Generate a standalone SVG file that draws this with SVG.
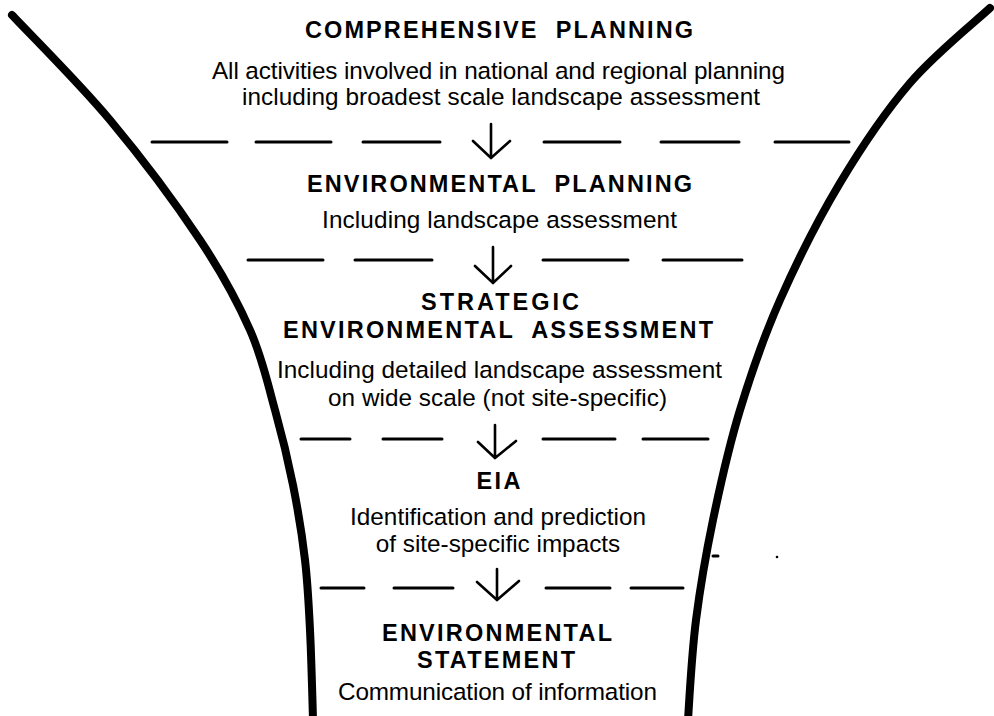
<svg xmlns="http://www.w3.org/2000/svg" width="994" height="716" viewBox="0 0 994 716">
<style>
text{font-family:"Liberation Sans",Arial,Helvetica,sans-serif;fill:#000;text-anchor:middle}
.h{font-weight:bold;font-size:23.5px}
.t{font-size:24.3px}
.funnel{fill:none;stroke:#000;stroke-width:8;stroke-linecap:round;stroke-linejoin:round}
.dash{stroke:#000;stroke-width:3;stroke-linecap:round}
.arr{fill:none;stroke:#000;stroke-width:2.6;stroke-linecap:round;stroke-linejoin:miter}
</style>
<rect width="994" height="716" fill="#fff"/>
<g id="funnel">
<path class="funnel" d="M12,15 C28.3,32.5 78.7,82.5 110,120 C141.3,157.5 176.7,205 200,240 C223.3,275 237.5,301.7 250,330 C262.5,358.3 267.8,384.2 275,410 C282.2,435.8 288,460 293,485 C298,510 302.2,535.8 305,560 C307.8,584.2 308.7,604 310,630 C311.3,656 312.5,701.7 313,720"/>
<path class="funnel" d="M990,8 C976.7,20.5 935,53.8 910,83 C885,112.2 861.7,146.8 840,183 C818.3,219.2 796.7,262.2 780,300 C763.3,337.8 751.2,373.3 740,410 C728.8,446.7 720.3,485 713,520 C705.7,555 700.2,587.3 696,620 C691.8,652.7 689.3,700 688,720"/>
</g>
<g id="separators">
<line class="dash" x1="152" y1="142" x2="227" y2="142"/>
<line class="dash" x1="256" y1="142" x2="331" y2="142"/>
<line class="dash" x1="363" y1="142" x2="440" y2="142"/>
<line class="dash" x1="544" y1="142" x2="620" y2="142"/>
<line class="dash" x1="661" y1="142" x2="739" y2="142"/>
<line class="dash" x1="775" y1="142" x2="849" y2="142"/>
<line class="dash" x1="248" y1="260" x2="323" y2="260"/>
<line class="dash" x1="355" y1="260" x2="432" y2="260"/>
<line class="dash" x1="543" y1="260" x2="628" y2="260"/>
<line class="dash" x1="663" y1="260" x2="742" y2="260"/>
<line class="dash" x1="301" y1="439" x2="350" y2="439"/>
<line class="dash" x1="383" y1="439" x2="442" y2="439"/>
<line class="dash" x1="543" y1="439" x2="615" y2="439"/>
<line class="dash" x1="643" y1="439" x2="708" y2="439"/>
<line class="dash" x1="321" y1="588" x2="364" y2="588"/>
<line class="dash" x1="394" y1="588" x2="453" y2="588"/>
<line class="dash" x1="546" y1="588" x2="610" y2="588"/>
<line class="dash" x1="631" y1="588" x2="683" y2="588"/>
<line class="dash" x1="713" y1="556" x2="718" y2="556" stroke-width="2"/>
<circle cx="777" cy="557" r="1.3" fill="#000"/>
</g>
<g id="connectors">
<path class="arr" d="M491,124 V158 M473,141 L491,158 L510,141"/>
<path class="arr" d="M493,247 V283 M475,266 L493,283 L511,266"/>
<path class="arr" d="M495,425 V458 M478,442 L495,458 L516,441"/>
<path class="arr" d="M497,569 V600 M477,582 L497,600 L519,581"/>
</g>
<g id="comprehensive-planning">
<text class="h" x="499" y="38" textLength="388" lengthAdjust="spacing" xml:space="preserve">COMPREHENSIVE  PLANNING</text>
<text class="t" x="498.5" y="79" textLength="573" lengthAdjust="spacing">All activities involved in national and regional planning</text>
<text class="t" x="501" y="105" textLength="518" lengthAdjust="spacing">including broadest scale landscape assessment</text>
</g>
<g id="environmental-planning">
<text class="h" x="499.5" y="192" textLength="385" lengthAdjust="spacing" xml:space="preserve">ENVIRONMENTAL  PLANNING</text>
<text class="t" x="499.5" y="228" textLength="355" lengthAdjust="spacing">Including landscape assessment</text>
</g>
<g id="strategic-environmental-assessment">
<text class="h" x="500" y="310" textLength="158" lengthAdjust="spacing">STRATEGIC</text>
<text class="h" x="498" y="338" textLength="430" lengthAdjust="spacing" xml:space="preserve">ENVIRONMENTAL  ASSESSMENT</text>
<text class="t" x="499.5" y="378" textLength="445" lengthAdjust="spacing">Including detailed landscape assessment</text>
<text class="t" x="497.5" y="406" textLength="339" lengthAdjust="spacing">on wide scale (not site-specific)</text>
</g>
<g id="eia">
<text class="h" x="498.5" y="489" textLength="44" lengthAdjust="spacing">EIA</text>
<text class="t" x="498" y="525">Identification and prediction</text>
<text class="t" x="498" y="552">of site-specific impacts</text>
</g>
<g id="environmental-statement">
<text class="h" x="497" y="641" textLength="230" lengthAdjust="spacing">ENVIRONMENTAL</text>
<text class="h" x="496" y="668" textLength="158" lengthAdjust="spacing">STATEMENT</text>
<text class="t" x="497.5" y="700" textLength="319" lengthAdjust="spacing">Communication of information</text>
</g>
</svg>
